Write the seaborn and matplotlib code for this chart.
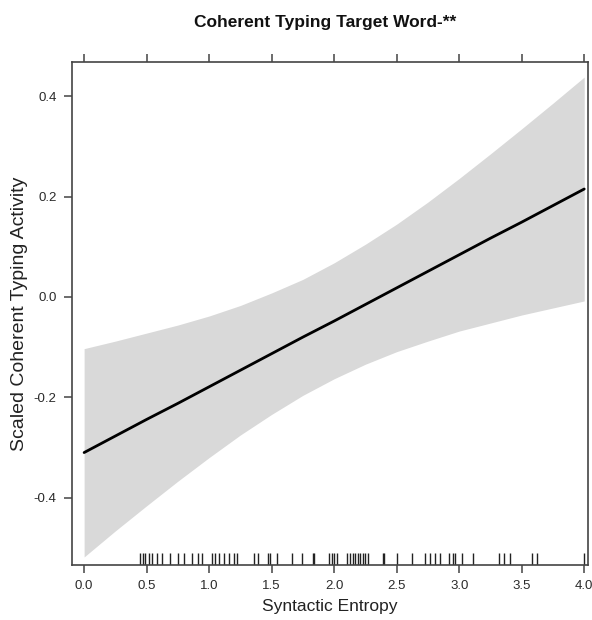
import matplotlib
matplotlib.use("Agg")
import matplotlib.pyplot as plt
import seaborn as sns
import numpy as np
import pandas as pd

# ---- data ----
grid_x = [0.0, 0.25, 0.5, 0.75, 1.0, 1.25, 1.5, 1.75, 2.0,
          2.25, 2.5, 2.75, 3.0, 3.25, 3.5, 3.75, 4.0]
fit_y = [-0.310, -0.277, -0.244, -0.212, -0.179, -0.146, -0.113, -0.080, -0.048,
         -0.015, 0.018, 0.051, 0.084, 0.117, 0.149, 0.182, 0.215]
lower_y = [-0.518, -0.466, -0.416, -0.367, -0.320, -0.275, -0.234, -0.196, -0.163,
           -0.134, -0.109, -0.088, -0.068, -0.052, -0.036, -0.022, -0.008]
upper_y = [-0.103, -0.088, -0.072, -0.056, -0.038, -0.017, 0.008, 0.035, 0.068,
           0.105, 0.145, 0.189, 0.236, 0.285, 0.335, 0.386, 0.438]

rug_x = [0.45, 0.47, 0.49, 0.52, 0.54, 0.58, 0.62, 0.69, 0.75, 0.80, 0.86,
         0.91, 0.94, 1.02, 1.05, 1.08, 1.12, 1.16, 1.20, 1.22, 1.36, 1.39,
         1.47, 1.49, 1.54, 1.66, 1.74, 1.83, 1.84, 1.96, 1.98, 2.00, 2.02,
         2.10, 2.13, 2.15, 2.17, 2.19, 2.21, 2.23, 2.25, 2.27, 2.39, 2.40,
         2.50, 2.62, 2.73, 2.77, 2.81, 2.85, 2.92, 2.95, 2.97, 3.02, 3.11,
         3.32, 3.36, 3.41, 3.58, 3.62, 4.00]

x_ticks = [0.0, 0.5, 1.0, 1.5, 2.0, 2.5, 3.0, 3.5, 4.0]
y_ticks = [-0.4, -0.2, 0.0, 0.2, 0.4]

title = "Coherent Typing Target Word-**"
xlab = "Syntactic Entropy"
ylab = "Scaled Coherent Typing Activity"

# ---- plotting ----
sns.set_theme(style="white")
plt.rcParams['font.family'] = ['Liberation Sans', 'DejaVu Sans']

fig = plt.figure(figsize=(5.92, 6.2), dpi=100)
ax = fig.add_axes([0.1216, 0.0887, 0.8716, 0.8113])

fit_df = pd.DataFrame({"x": grid_x, "fit": fit_y, "lo": lower_y, "hi": upper_y})
ax.fill_between(fit_df["x"], fit_df["lo"], fit_df["hi"], color="#d9d9d9", lw=0)
sns.lineplot(data=fit_df, x="x", y="fit", ax=ax, color="black", lw=2)
sns.rugplot(x=rug_x, ax=ax, height=0.023, color="#222222", lw=1.0)

ax.set_xlim(-0.097, 4.03)
ax.set_ylim(-0.534, 0.468)
ax.set_xticks(x_ticks)
ax.set_xticklabels([f"{v:.1f}" for v in x_ticks])
ax.set_yticks(y_ticks)
ax.set_yticklabels([f"{v:.1f}" for v in y_ticks])

for s in ax.spines.values():
    s.set_visible(True)
    s.set_color("#444444")
    s.set_linewidth(1.2)

ax.tick_params(axis="both", which="major", direction="out", length=6, width=1.1,
               color="#444444", labelsize=9.5, labelcolor="#2a2a2a",
               bottom=True, left=True, top=True, right=False, pad=5)
ax.tick_params(axis="x", labeltop=False)

ax.set_xlabel(xlab, fontsize=12.5, color="#222222", labelpad=5)
ax.set_ylabel(ylab, fontsize=14, color="#222222", labelpad=4)
fig.suptitle(title, fontsize=12.5, fontweight="bold", x=0.55, y=0.975,
             va="top", color="#111111")

fig.savefig("out.png", dpi=100)
